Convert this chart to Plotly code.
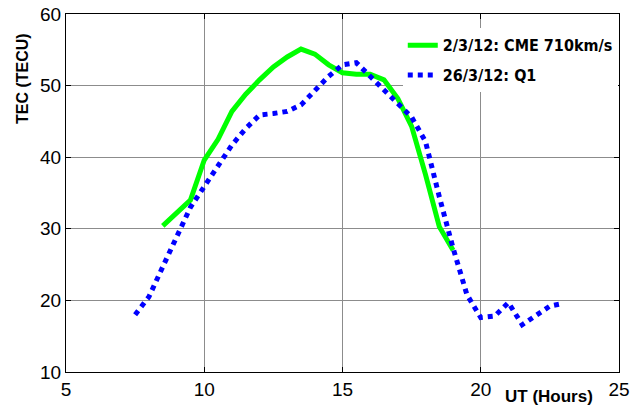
import plotly.graph_objects as go

# UT hours and TEC (TECU) for the storm day
cme_ut = [8.5, 9.5, 10, 10.5, 11, 11.5, 12, 12.5, 13, 13.5, 14, 14.5, 15,
          15.5, 16, 16.5, 17, 17.5, 18, 18.5, 19]
cme_tec = [30.4, 34.0, 39.6, 42.5, 46.4, 48.8, 50.8, 52.6, 54.0, 55.1, 54.4,
           52.9, 51.8, 51.6, 51.6, 50.8, 48.2, 44.3, 37.6, 30.3, 27.0]

# UT hours and TEC (TECU) for the quiet day
q_ut = [7.5, 8, 8.5, 9, 9.5, 10, 10.5, 11, 11.5, 12, 12.5, 13, 13.5, 14, 14.5,
        15, 15.5, 16, 16.5, 17, 17.5, 18, 18.5, 19, 19.5, 20, 20.5, 21, 21.5,
        22, 22.5, 23]
q_tec = [18.0, 20.5, 24.7, 28.8, 33.0, 35.9, 38.8, 41.7, 44.0, 45.9, 46.1,
         46.4, 47.3, 49.3, 51.3, 52.9, 53.2, 51.3, 49.3, 47.5, 45.6, 42.2,
         34.5, 27.3, 20.8, 17.6, 17.8, 19.7, 16.6, 17.8, 19.2, 19.6]

x_ticks = [5, 10, 15, 20, 25]
y_ticks = [10, 20, 30, 40, 50, 60]

fig = go.Figure()
fig.add_trace(go.Scatter(
    x=cme_ut, y=cme_tec, mode="lines", name="<b>2/3/12: CME 710km/s</b>",
    legendgroup="cme", line=dict(color="#00ff00", width=5),
))
fig.add_trace(go.Scatter(
    x=q_ut, y=q_tec, mode="lines", name="<b>26/3/12: Q1</b>",
    legendgroup="quiet", line=dict(color="#0000ff", width=5, dash="5px,5px"),
))

axis_common = dict(
    showgrid=True, gridcolor="#8c8c8c", gridwidth=1,
    showline=True, linecolor="black", linewidth=1, mirror="ticks",
    ticks="inside", ticklen=5, tickcolor="black",
    tickfont=dict(family="Liberation Sans, Arial", size=19, color="black"),
    zeroline=False, automargin=False,
)

fig.update_layout(
    width=640, height=410,
    margin=dict(l=66, r=21, t=14, b=38),
    paper_bgcolor="white", plot_bgcolor="white",
    xaxis=dict(range=[5, 25], tickvals=x_ticks, **axis_common),
    yaxis=dict(range=[10, 60], tickvals=y_ticks, **axis_common),
    legend=dict(
        x=0.609, y=0.96, xanchor="left", yanchor="top",
        bgcolor="white", borderwidth=0,
        font=dict(family="DejaVu Sans Condensed", size=16, color="black"),
        traceorder="grouped", tracegroupgap=6,
    ),
    showlegend=True,
    annotations=[
        dict(text="<b>TEC (TECU)</b>", textangle=-90, x=-0.0796, y=0.821,
             xref="paper", yref="paper", xanchor="center", yanchor="middle",
             showarrow=False,
             font=dict(family="Liberation Sans, Arial", size=16, color="black")),
        dict(text="<b>UT (Hours)</b>", x=0.874, y=-0.0698,
             xref="paper", yref="paper", xanchor="center", yanchor="middle",
             showarrow=False,
             font=dict(family="Liberation Sans, Arial", size=17, color="black")),
    ],
)

fig.write_html("out.html")
